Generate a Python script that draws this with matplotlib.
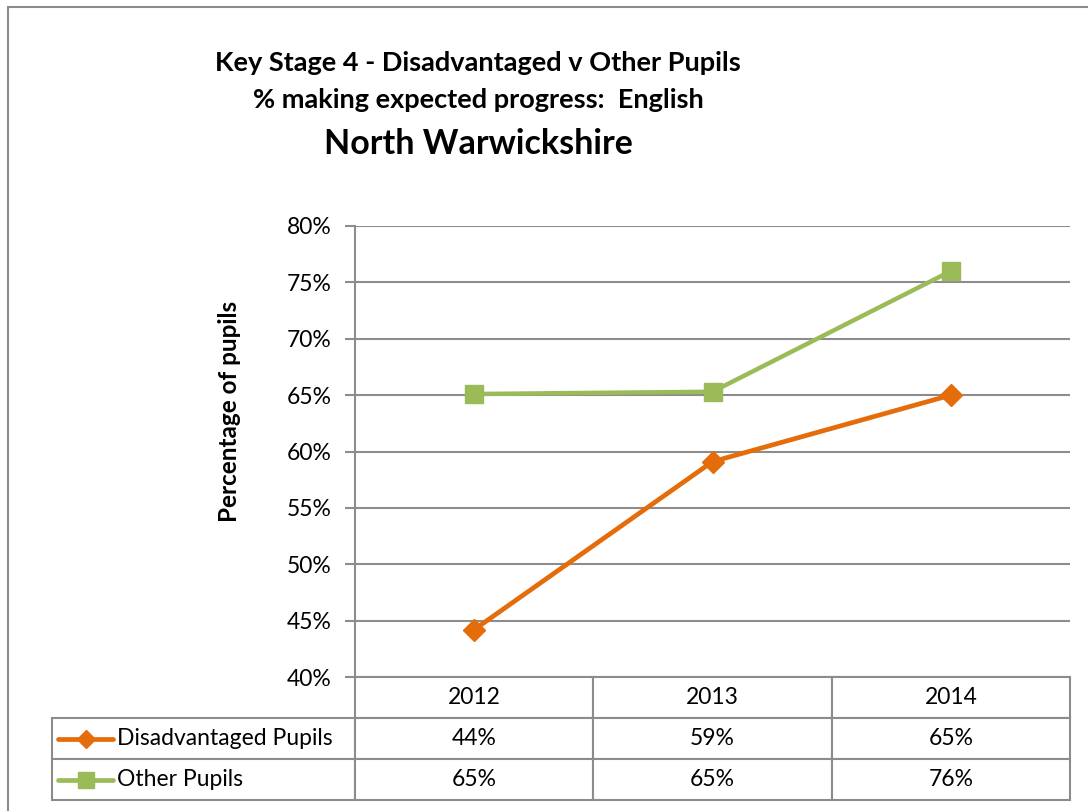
import matplotlib
matplotlib.use("Agg")
import matplotlib.pyplot as plt
from matplotlib.lines import Line2D
from matplotlib.patches import Rectangle

plt.rcParams['font.family'] = ['Lato', 'DejaVu Sans']

years = ['2012', '2013', '2014']
disadvantaged = [44.2, 59.1, 65.0]
other = [65.1, 65.3, 76.0]
series_names = ['Disadvantaged Pupils', 'Other Pupils']
table_values = [[44, 59, 65], [65, 65, 76]]
y_ticks = [40, 45, 50, 55, 60, 65, 70, 75, 80]

orange = '#E46C0A'
green = '#9BBB59'
grid_col = '#8C8C8C'

W, H = 1088, 811
fig = plt.figure(figsize=(W / 100, H / 100), dpi=100)

# plot area in pixels (left, top, right, bottom)
pl, pt, pr, pb = 355, 226, 1070, 677
ax = fig.add_axes([pl / W, 1 - pb / H, (pr - pl) / W, (pb - pt) / H])

x = range(len(years))
ax.plot(x, disadvantaged, color=orange, lw=3.4, marker='D', ms=11,
        mec=orange, mfc=orange, solid_joinstyle='round', clip_on=False, zorder=3)
ax.plot(x, other, color=green, lw=3.2, marker='s', ms=13,
        mec=green, mfc=green, clip_on=False, zorder=3)

ax.set_xlim(-0.5, 2.5)
ax.set_ylim(40, 80)
ax.set_yticks(y_ticks)
ax.set_yticklabels([f'{v}%' for v in y_ticks], fontsize=16.5)
ax.set_xticks([])
ax.yaxis.grid(True, color=grid_col, lw=1.5)
ax.set_axisbelow(True)
for s in ['top', 'right', 'bottom']:
    ax.spines[s].set_visible(False)
ax.spines['left'].set_color(grid_col)
ax.spines['left'].set_linewidth(1.5)
ax.tick_params(axis='y', length=7, width=1.5, color=grid_col, pad=10)
ax.set_ylabel('Percentage of pupils', fontsize=17.5, fontweight='bold')
ax.yaxis.set_label_coords(-0.16, 0.588)

# data table below the plot area
tl, tb = 52, 800
label_w = pl - tl
col_w = (pr - pl) / len(years)
ax_w, ax_h = pr - pl, pb - pt
cell_text = [[name] + [f'{v}%' for v in vals] for name, vals in zip(series_names, table_values)]
tab = ax.table(cellText=cell_text, colLabels=[''] + years,
               colWidths=[label_w] + [col_w] * len(years),
               cellLoc='center',
               bbox=[(tl - pl) / ax_w, -(tb - pb) / ax_h, (pr - tl) / ax_w, (tb - pb) / ax_h])
tab.auto_set_font_size(False)
tab.set_fontsize(16.5)
for (r, c), cell in tab.get_celld().items():
    cell.set_edgecolor(grid_col)
    cell.set_linewidth(1.5)
    if r == 0 and c == 0:
        cell.visible_edges = 'open'
    if c == 0 and r > 0:
        cell.PAD = 65 / label_w
        cell._loc = 'left'
        cell.get_text().set_ha('left')

# legend keys inside the row label cells
row_h = (tb - pb) / 3
for i, (col, mk, ms) in enumerate([(orange, 'D', 9), (green, 's', 11)]):
    yc = pb + row_h * (i + 1.5)
    yy = 1 - (yc - pt) / ax_h
    x0 = (58 - pl) / ax_w
    x1 = (113 - pl) / ax_w
    ax.add_line(Line2D([x0, x1], [yy, yy], transform=ax.transAxes, color=col,
                       lw=3.4, clip_on=False, solid_capstyle='round'))
    ax.add_line(Line2D([(x0 + x1) / 2], [yy], transform=ax.transAxes, color=col,
                       marker=mk, ms=ms, mec=col, clip_on=False))

# titles
fig.text(478 / W, 1 - 63 / H, 'Key Stage 4 - Disadvantaged v Other Pupils',
         ha='center', va='center', fontsize=19.5, fontweight='bold')
fig.text(478 / W, 1 - 100 / H, '% making expected progress:  English',
         ha='center', va='center', fontsize=19.5, fontweight='bold')
fig.text(478 / W, 1 - 144 / H, 'North Warwickshire',
         ha='center', va='center', fontsize=24.5, fontweight='bold')

# chart border
fig.add_artist(Rectangle((8 / W, -0.1), 1.2, 1 - 7 / H + 0.1, transform=fig.transFigure,
                         fill=False, edgecolor='#8C8C8C', lw=1.5))

fig.savefig('out.png', dpi=100)
